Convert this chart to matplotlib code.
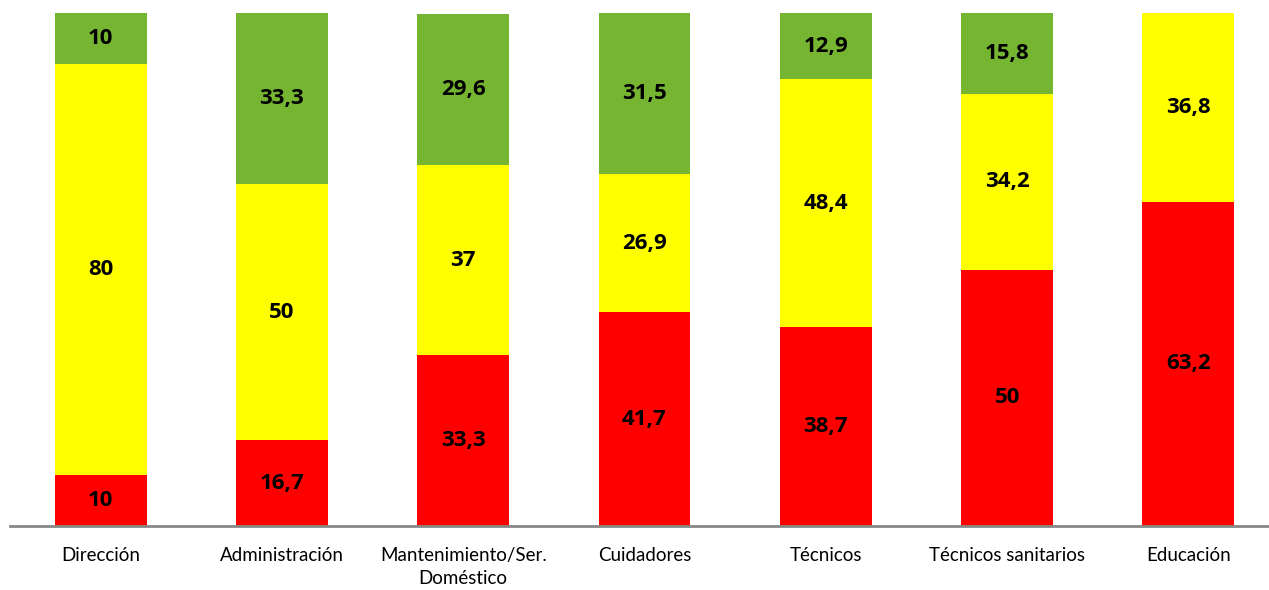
import numpy as np
import matplotlib.pyplot as plt

categories = ["Dirección", "Administración", "Mantenimiento/Ser.\nDoméstico",
              "Cuidadores", "Técnicos", "Técnicos sanitarios", "Educación"]
red_vals = [10, 16.7, 33.3, 41.7, 38.7, 50, 63.2]
yellow_vals = [80, 50, 37, 26.9, 48.4, 34.2, 36.8]
green_vals = [10, 33.3, 29.6, 31.5, 12.9, 15.8, 0]

COLORS = ["#FF0000", "#FFFF00", "#76B531"]

plt.rcParams["font.family"] = ["Lato", "DejaVu Sans"]

fig = plt.figure(figsize=(12.69, 5.90), dpi=100)
ax = fig.add_axes([10 / 1269, 64 / 590, 1269 / 1269, 513 / 590])

x = np.arange(len(categories))
bottom = np.zeros(len(categories))
for vals, col in zip([red_vals, yellow_vals, green_vals], COLORS):
    vals = np.array(vals, dtype=float)
    ax.bar(x, vals, bottom=bottom, width=0.507, color=col, edgecolor="none")
    for xi, b, v in zip(x, bottom, vals):
        if v > 0:
            txt = f"{v:g}".replace(".", ",")
            ax.text(xi, b + v / 2, txt, ha="center", va="center",
                    fontsize=16, fontweight="bold", color="black",
                    family=["Open Sans", "DejaVu Sans"])
    bottom += vals

ax.set_xlim(-0.5, len(categories) - 0.5)
ax.set_ylim(0, 100)
ax.set_yticks([])
ax.set_xticks(x)
ax.set_xticklabels(categories, fontsize=13.5, linespacing=1.45, va="top")
ax.tick_params(axis="x", length=0, pad=15)
for side in ["top", "right", "left"]:
    ax.spines[side].set_visible(False)
ax.spines["bottom"].set_color("#878787")
ax.spines["bottom"].set_linewidth(2)

fig.savefig("out.png", dpi=100)
